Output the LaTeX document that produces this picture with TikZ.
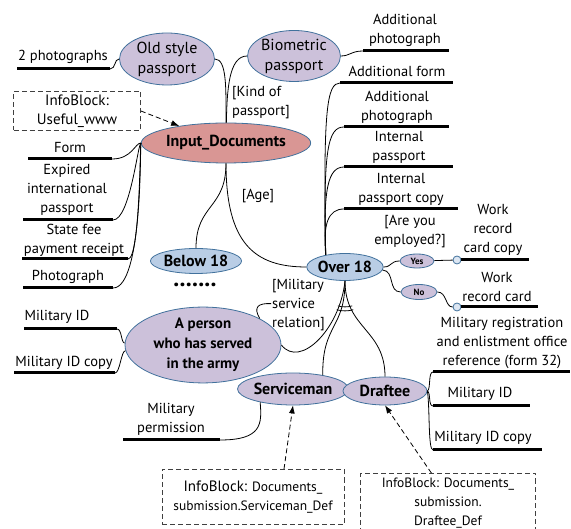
\documentclass[tikz,border=0pt]{standalone}
\usepackage{fontspec}
\setmainfont{PT Sans}
\usetikzlibrary{shapes.geometric,arrows.meta}
\definecolor{lavender}{HTML}{CCC1DA}
\definecolor{paleblue}{HTML}{B9CDE5}
\definecolor{salmon}{HTML}{D99694}
\definecolor{rimblue}{HTML}{41719C}
\newcommand{\lblfont}{\fontsize{14.5bp}{19bp}\selectfont}
\newcommand{\ovalfont}{\fontsize{16bp}{20bp}\selectfont}
\newcommand{\ovalbold}{\fontsize{16bp}{20bp}\selectfont\bfseries}
\newcommand{\infofont}{\fontsize{13.5bp}{19bp}\selectfont}
\begin{document}
\begin{tikzpicture}[>={Latex[length=8bp,width=6bp]},line join=bevel,
  conn/.style={black,line width=0.8bp},
  uline/.style={black,line width=3bp},
  infolink/.style={black,line width=0.8bp,->,dash pattern=on 5bp off 3bp},
  oval/.style={ellipse,draw=rimblue,line width=0.8bp,inner sep=0pt,align=center,font=\ovalbold},
  lav/.style={oval,fill=lavender},
  pale/.style={oval,fill=paleblue},
  knob/.style={circle,draw=rimblue,line width=0.8bp,fill=paleblue!50,minimum size=8bp,inner sep=0pt},
  lbl/.style={align=center,inner sep=1bp,font=\lblfont},
  infobox/.style={draw=black!75,line width=0.8bp,dash pattern=on 5bp off 3bp,align=center,inner sep=0pt,font=\infofont},
]
\useasboundingbox (0bp,0bp) rectangle (571bp,529bp);
%%
\node (old) at (167bp,470bp) [lav,font=\ovalfont,minimum width=95bp,minimum height=52bp] {Old style\\passport};
  \node (bio) at (294bp,473bp) [lav,font=\ovalfont,minimum width=88bp,minimum height=51bp] {Biometric\\passport};
  \node (input) at (226bp,386bp) [oval,fill=salmon,minimum width=142bp,minimum height=40bp] {Input\_Documents};
  \node (below) at (196bp,268bp) [pale,minimum width=82bp,minimum height=25bp] {Below 18};
  \node (over) at (345bp,262bp) [pale,minimum width=74bp,minimum height=27bp] {Over 18};
  \node (person) at (203bp,184bp) [lav,font={\fontsize{15bp}{20bp}\selectfont\bfseries},minimum width=156bp,minimum height=60bp] {A person\\who has served\\in the army};
  \node (serv) at (293bp,140bp) [lav,minimum width=100bp,minimum height=32bp] {Serviceman};
  \node (draftee) at (385bp,138bp) [lav,minimum width=84bp,minimum height=28bp] {Draftee};
  \node (yes) at (417bp,268bp) [lav,font=\fontsize{9bp}{10bp}\selectfont\bfseries,minimum width=34bp,minimum height=14bp] {Yes};
  \node (no) at (419bp,237bp) [lav,font=\fontsize{9bp}{10bp}\selectfont\bfseries,minimum width=36bp,minimum height=15bp] {No};
  \node (yc) at (457bp,269bp) [knob] {};
  \node (nc) at (457bp,222bp) [knob] {};
%% info blocks
  \node (info1) at (77bp,418bp) [infobox,font=\fontsize{15bp}{19bp}\selectfont,minimum width=127bp,minimum height=39bp] {InfoBlock:\\Useful\_www};
  \node (info2) at (253bp,32bp) [infobox,minimum width=182bp,minimum height=55bp] {{\fontsize{15bp}{19bp}\selectfont InfoBlock:} Documents\_\\submission.Serviceman\_Def};
  \node (info3) at (448bp,26bp) [infobox,minimum width=175bp,minimum height=59bp] {InfoBlock: Documents\_\\submission.\\Draftee\_Def};
%% underlined documents
  \node (t_photos) at (63bp,472bp) [lbl] {2 photographs};
  \node (t_form) at (70bp,381bp) [lbl] {Form};
  \node (t_expired) at (67bp,339bp) [lbl] {Expired\\international\\passport};
  \node (t_fee) at (74bp,289bp) [lbl] {State fee\\payment receipt};
  \node (t_photo) at (68bp,252bp) [lbl] {Photograph};
  \node (t_milidL) at (57bp,212bp) [lbl] {Military ID};
  \node (t_milcopyL) at (64bp,166bp) [lbl] {Military ID copy};
  \node (t_perm) at (171bp,110bp) [lbl] {Military\\permission};
  \node (t_addphotoA) at (405bp,499bp) [lbl] {Additional\\photograph};
  \node (t_addform) at (397bp,458bp) [lbl] {Additional form};
  \node (t_addphotoB) at (397bp,422bp) [lbl] {Additional\\photograph};
  \node (t_intpass) at (399bp,382bp) [lbl] {Internal\\passport};
  \node (t_intcopy) at (401bp,340bp) [lbl] {Internal\\passport copy};
  \node (t_wcopy) at (493bp,299bp) [lbl] {Work\\record\\card copy};
  \node (t_wcard) at (497bp,242bp) [lbl] {Work\\record card};
  \node (t_reg) at (502bp,186bp) [lbl] {Military registration\\and enlistment office\\reference (form 32)};
  \node (t_milidR) at (480bp,135bp) [lbl] {Military ID};
  \node (t_milcopyR) at (483bp,91bp) [lbl] {Military ID copy};
%% conditions
  \node (t_kind) at (231bp,426bp) [lbl,anchor=west,align=left] {[Kind of\\passport]};
  \node (t_age) at (258bp,333bp) [lbl] {[Age]};
  \node (t_employed) at (410bp,297bp) [lbl] {[Are you\\employed?]};
  \node (t_milrel) at (271bp,224bp) [lbl,anchor=west,align=left] {[Military\\service\\relation]};
  \node (t_dots) at (195bp,244bp) [font=\fontsize{24bp}{24bp}\selectfont\bfseries,inner sep=0pt] {.......};
%% line ends
  \coordinate (l_photos) at (17bp,460bp);   \coordinate (r_photos) at (110bp,460bp);
  \coordinate (l_form) at (28bp,370bp);     \coordinate (r_form) at (112bp,370bp);
  \coordinate (l_expired) at (23bp,309bp);  \coordinate (r_expired) at (113bp,309bp);
  \coordinate (l_fee) at (22bp,270bp);      \coordinate (r_fee) at (128bp,270bp);
  \coordinate (l_photo) at (23bp,241bp);    \coordinate (r_photo) at (113bp,241bp);
  \coordinate (l_milidL) at (24bp,200bp);   \coordinate (r_milidL) at (117bp,200bp);
  \coordinate (l_milcopyL) at (14bp,156bp); \coordinate (r_milcopyL) at (115bp,156bp);
  \coordinate (l_perm) at (123bp,89bp);     \coordinate (r_perm) at (220bp,89bp);
  \coordinate (l_addphotoA) at (363bp,478bp); \coordinate (r_addphotoA) at (449bp,478bp);
  \coordinate (l_addform) at (340bp,446bp);   \coordinate (r_addform) at (453bp,446bp);
  \coordinate (l_addphotoB) at (344bp,402bp); \coordinate (r_addphotoB) at (449bp,402bp);
  \coordinate (l_intpass) at (344bp,362bp);   \coordinate (r_intpass) at (453bp,362bp);
  \coordinate (l_intcopy) at (344bp,320bp);   \coordinate (r_intcopy) at (458bp,320bp);
  \coordinate (r_wcopy) at (529bp,269bp);
  \coordinate (r_wcard) at (538bp,222bp);
  \coordinate (l_reg) at (433bp,157bp);     \coordinate (r_reg) at (570bp,157bp);
  \coordinate (l_milidR) at (433bp,123bp);  \coordinate (r_milidR) at (530bp,123bp);
  \coordinate (l_milcopyR) at (433bp,79bp); \coordinate (r_milcopyR) at (542bp,79bp);
%% underlines
  \foreach \d in {photos,form,expired,fee,photo,milidL,milcopyL,perm,addphotoA,addform,addphotoB,intpass,intcopy,reg,milidR,milcopyR}
    \draw [uline] (l_\d) -- (r_\d);
  \draw [uline] (yc.east) -- (r_wcopy);
  \draw [uline] (nc.east) -- (r_wcard);
%% connectors
  \draw [conn] (r_photos) ..controls (116bp,460bp) and (114bp,470bp) .. (old);
  \draw [conn] (input) ..controls (226bp,440bp) and (227bp,470bp) .. (old);
  \draw [conn] (input) ..controls (227bp,440bp) and (229bp,473bp) .. (bio);
  \draw [conn] (bio) ..controls (350bp,473bp) and (351bp,478bp) .. (l_addphotoA);
  \draw [conn] (r_form) ..controls (132bp,370bp) and (135bp,386bp) .. (input.west);
  \draw [conn] (r_expired) ..controls (130bp,309bp) and (138bp,386bp) .. (input.west);
  \draw [conn] (r_fee) ..controls (140bp,270bp) and (140bp,386bp) .. (input.west);
  \draw [conn] (r_photo) ..controls (143bp,241bp) and (140bp,386bp) .. (input.west);
  \draw [conn] (input.south) ..controls (226bp,320bp) and (196bp,325bp) .. (below);
  \draw [conn] (input.south) ..controls (226bp,285bp) and (255bp,262bp) .. (over);
  \draw [conn] (over.148) ..controls (323bp,420bp) and (327bp,446bp) .. (l_addform);
  \draw [conn] (over.148) ..controls (323bp,380bp) and (328bp,402bp) .. (l_addphotoB);
  \draw [conn] (over.148) ..controls (323bp,340bp) and (328bp,362bp) .. (l_intpass);
  \draw [conn] (over.148) ..controls (323bp,305bp) and (328bp,320bp) .. (l_intcopy);
  \draw [conn] (over) ..controls (392bp,262bp) and (390bp,268bp) .. (yes);
  \draw [conn] (yes) -- (yc);
  \draw [conn] (over) ..controls (395bp,258bp) and (388bp,237bp) .. (no);
  \draw [conn] (no) ..controls (447bp,237bp) and (445bp,222bp) .. (nc);
  \draw [conn] (over.south) ..controls (340bp,200bp) and (300bp,160bp) .. (person.east);
  \draw [conn] (over.south) ..controls (345bp,200bp) and (322bp,205bp) .. (serv.25);
  \draw [conn] (over.south) ..controls (345bp,200bp) and (385bp,200bp) .. (draftee);
  \draw [conn] (over.south) ++(-106:26bp) arc [start angle=-106,end angle=-74,radius=26bp];
  \draw [conn] (over.south) ++(-106:30bp) arc [start angle=-106,end angle=-74,radius=30bp];
  \draw [conn] (person.25) ..controls (253bp,222bp) and (258bp,226bp) .. (t_milrel);
  \draw [conn] (r_milidL) ..controls (122bp,200bp) and (121bp,186bp) .. (person);
  \draw [conn] (r_milcopyL) ..controls (120bp,156bp) and (121bp,178bp) .. (person);
  \draw [conn] (r_perm) ..controls (262bp,89bp) and (262bp,105bp) .. (serv.202);
  \draw [conn] (draftee.east) ..controls (431bp,140bp) and (428bp,157bp) .. (l_reg);
  \draw [conn] (draftee.east) ..controls (431bp,136bp) and (428bp,123bp) .. (l_milidR);
  \draw [conn] (draftee.east) ..controls (430bp,120bp) and (428bp,79bp) .. (l_milcopyR);
  \draw [infolink] (info1.east) -- (input.160);
  \draw [infolink] (info2.42) -- (serv.south);
  \draw [infolink] (info3.119) -- (draftee.south);
%
\end{tikzpicture}
\end{document}
